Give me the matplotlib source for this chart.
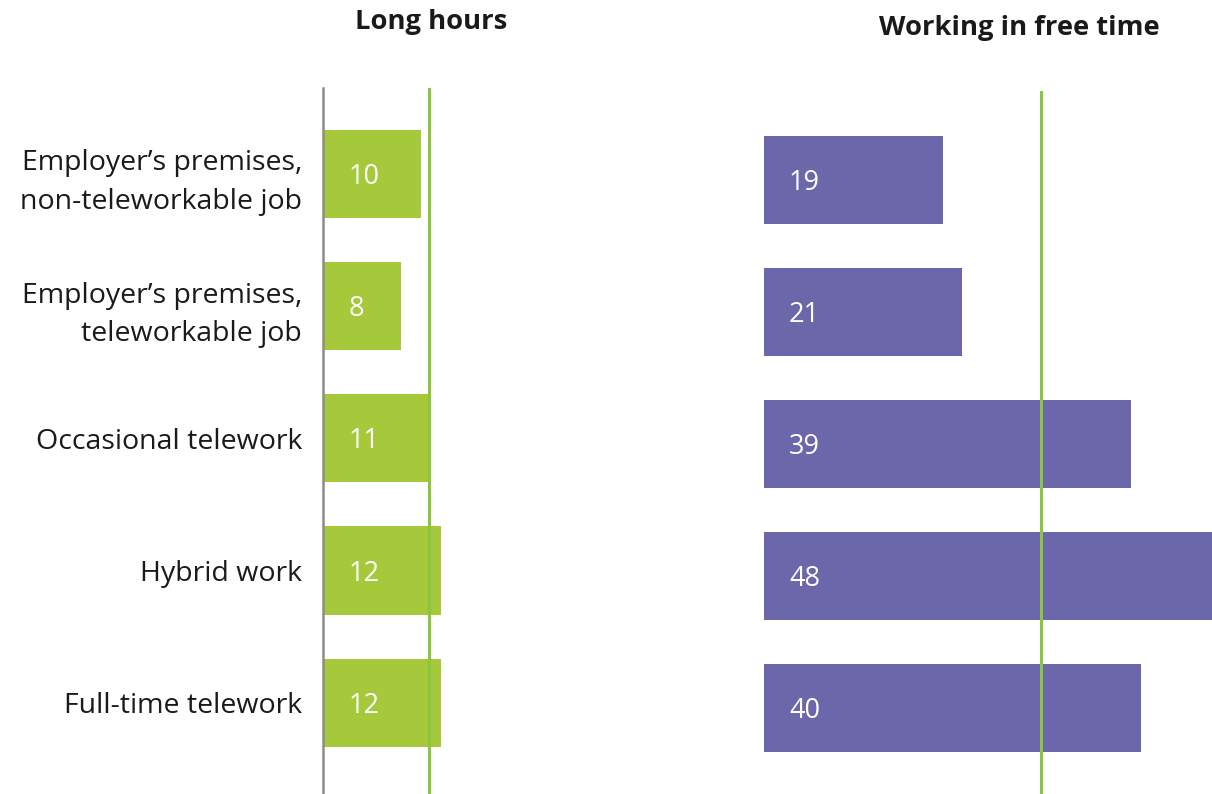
import matplotlib.pyplot as plt
import numpy as np

plt.rcParams['font.family'] = ['Open Sans', 'DejaVu Sans']

# categories and shares (%)
categories = ["Employer\u2019s premises,\nnon-teleworkable job",
              "Employer\u2019s premises,\nteleworkable job",
              "Occasional telework",
              "Hybrid work",
              "Full-time telework"]
long_hours = [10, 8, 11, 12, 12]
free_time = [19, 21, 39, 48, 40]
avg_long = 10.8
avg_free = 29.4

green = '#a5c93a'
line_green = '#8cc63f'
purple = '#6c67ab'

W, H = 1212, 794
fig = plt.figure(figsize=(W / 100, H / 100), dpi=100)

def px_axes(x0, y0, x1, y1):
    # axes from pixel box (top-left origin)
    return fig.add_axes([x0 / W, 1 - y1 / H, (x1 - x0) / W, (y1 - y0) / H])

y = np.arange(len(categories))

# left panel: long hours
ax1 = px_axes(323, 88, 519, 794)
ax1.barh(y, long_hours, height=0.667, color=green)
ax1.axvline(avg_long, color=line_green, lw=2.2)
ax1.set_xlim(0, 20)
ax1.set_ylim(4.69, -0.65)
for s in ['top', 'right', 'bottom']:
    ax1.spines[s].set_visible(False)
ax1.spines['left'].set_color('#8c8c8c')
ax1.spines['left'].set_linewidth(1.8)
ax1.set_xticks([])
ax1.set_yticks(y)
ax1.set_yticklabels(categories, fontsize=20.5, color='#1a1a1a', linespacing=1.5)
ax1.tick_params(axis='y', length=0, pad=15)
for yi, v in zip(y, long_hours):
    ax1.annotate(str(v), (0, yi), xytext=(26, -3), textcoords='offset pixels',
                 ha='left', va='center', color='white', fontsize=19.5)

# right panel: working in free time
ax2 = px_axes(764, 91, 1212, 794)
ax2.barh(y, free_time, height=0.667, color=purple)
ax2.axvline(avg_free, color=line_green, lw=2.2)
ax2.set_xlim(0, 448 / 9.42)
ax2.set_ylim(4.65, -0.678)
ax2.axis('off')
for yi, v in zip(y, free_time):
    ax2.annotate(str(v), (0, yi), xytext=(25, -3), textcoords='offset pixels',
                 ha='left', va='center', color='white', fontsize=19.5)

fig.text(431 / W, 1 - 22 / H, "Long hours", ha='center', va='center',
         fontsize=19.7, fontweight='bold', color='#1a1a1a')
fig.text(1019 / W, 1 - 28 / H, "Working in free time", ha='center', va='center',
         fontsize=19.7, fontweight='bold', color='#1a1a1a')

fig.savefig('out.png', dpi=100)
